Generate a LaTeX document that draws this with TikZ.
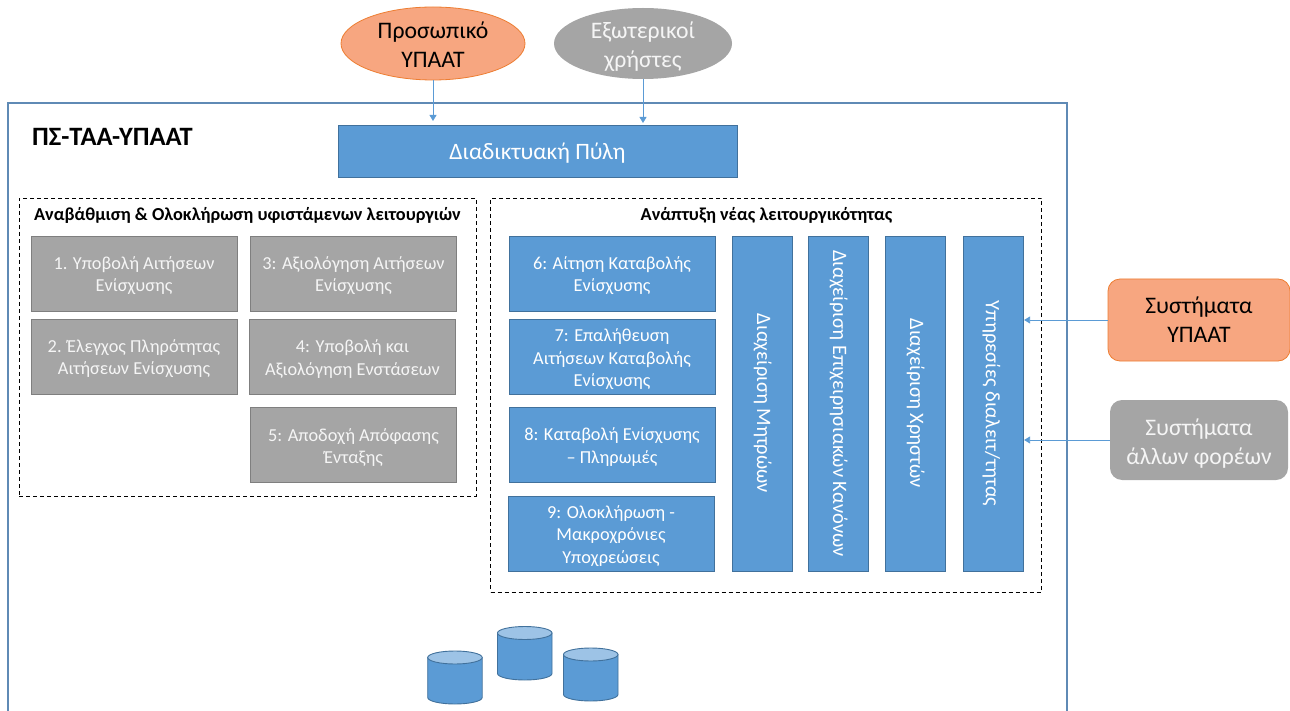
\documentclass[tikz,border=0pt]{standalone}
\usepackage{fontspec}
\setmainfont{Carlito}
\usetikzlibrary{shapes.geometric,arrows.meta}
\definecolor{bluefill}{HTML}{5B9BD5}
\definecolor{blueline}{HTML}{41719C}
\definecolor{bluetop}{HTML}{9DC3E6}
\definecolor{grayfill}{HTML}{A5A5A5}
\definecolor{grayline}{HTML}{7F7F7F}
\definecolor{orangefill}{HTML}{F7A680}
\definecolor{orangeline}{HTML}{ED7D31}
\definecolor{frameline}{HTML}{5F8AB5}
\newcommand{\toplift}{\rule{0pt}{17.5pt}}
\tikzset{
  bx/.style={rectangle,inner sep=0pt,align=center,line width=0.8pt,font=\fontsize{18.3}{22.5}\selectfont},
  bluebox/.style={bx,draw=blueline,fill=bluefill,text=white},
  graybox/.style={bx,draw=grayline,fill=grayfill,text=white!92!gray},
  wide/.style={minimum width=206pt,minimum height=75pt},
  bar/.style={bluebox,minimum width=60pt,minimum height=335pt},
  bartext/.style={font=\fontsize{20.5}{24}\selectfont,text=white,inner sep=0pt},
  dashbox/.style={rectangle,draw=black,dashed,line width=0.9pt,dash pattern=on 4pt off 3pt,inner sep=0pt},
  head/.style={font=\bfseries\fontsize{18.3}{22}\selectfont,text=black,inner sep=0pt},
  link/.style={draw=bluefill,line width=0.8pt,-{Triangle[length=6pt,width=7pt]}},
  bigtext/.style={font=\fontsize{23.7}{29}\selectfont,align=center,inner sep=0pt},
}
\newcommand{\dbcyl}[3]{%
  \path[fill=bluefill,draw=blueline,line width=0.9pt]
    (#1,#2+6.5) -- (#1,#3-6.5) arc[start angle=180,end angle=360,x radius=27.25pt,y radius=6.5pt]
    -- (#1+54.5,#2+6.5) -- cycle;
  \path[fill=bluetop,draw=blueline,line width=0.9pt]
    (#1+27.25,#2+6.5) ellipse[x radius=27.25pt,y radius=6.5pt];
}
\begin{document}
\begin{tikzpicture}[x=1pt,y=-1pt]
\useasboundingbox (0,0) rectangle (1290,711);
% outer frame, open at the bottom
\draw[frameline,line width=1.2pt] (8,711) -- (8,103) -- (1067,103) -- (1067,711);
\node[anchor=west,inner sep=0pt,font=\bfseries\fontsize{26.5}{30}\selectfont] (title) at (32,137) {ΠΣ-ΤΑΑ-ΥΠΑΑΤ};

% actors
\node[ellipse,draw=orangeline,fill=orangefill,line width=0.8pt,minimum width=184pt,minimum height=73pt,inner sep=0pt] (staff) at (433,43.5) {};
\node[bigtext,text=black] (stafft) at (433,44.5) {Προσωπικό\\ΥΠΑΑΤ};
\node[ellipse,fill=grayfill,minimum width=178pt,minimum height=71pt,inner sep=0pt] (ext) at (643,43.5) {};
\node[bigtext,text=white!92!gray] (extt) at (643,47) {Εξωτερικοί\\χρήστες};

% portal
\node[bluebox,minimum width=399pt,minimum height=52pt,font=\fontsize{23.5}{28}\selectfont] (portal) at (537.5,151) {\rule{0pt}{21pt}Διαδικτυακή Πύλη};
\coordinate (staffend) at (433,121);
\coordinate (extend) at (643,123);
\path[link] (staff.south) -- (staffend);
\path[link] (ext.south) -- (extend);

% dashed groups
\node[dashbox,minimum width=457pt,minimum height=298pt] (grpA) at (247.5,347) {};
\node[head] (headA) at (247.5,215) {Αναβάθμιση \& Ολοκλήρωση υφιστάμενων λειτουργιών};
\node[dashbox,minimum width=551pt,minimum height=394pt] (grpB) at (766,395) {};
\node[head] (headB) at (766.5,215) {Ανάπτυξη νέας λειτουργικότητας};

% gray boxes
\node[graybox,wide] (b1) at (134,273.5) {\toplift 1. Υποβολή Αιτήσεων\\Ενίσχυσης};
\node[graybox,wide] (b2) at (134,356.5) {\toplift 2. Έλεγχος Πληρότητας\\Αιτήσεων Ενίσχυσης};
\node[graybox,wide] (b3) at (353.5,273.5) {\toplift 3: Αξιολόγηση Αιτήσεων\\Ενίσχυσης};
\node[graybox,wide] (b4) at (352.5,356.5) {\toplift 4: Υποβολή και\\Αξιολόγηση Ενστάσεων};
\node[graybox,wide] (b5) at (353.5,445) {\toplift 5: Αποδοχή Απόφασης\\Ένταξης};

% blue boxes
\node[bluebox,wide] (b6) at (612,273.5) {\toplift 6: Αίτηση Καταβολής\\Ενίσχυσης};
\node[bluebox,wide] (b7) at (612,357) {\toplift 7: Επαλήθευση\\Αιτήσεων Καταβολής\\Ενίσχυσης};
\node[bluebox,wide] (b8) at (612,444.5) {\toplift 8: Καταβολή Ενίσχυσης\\– Πληρωμές};
\node[bluebox,wide] (b9) at (611,533.5) {\toplift 9: Ολοκλήρωση -\\Μακροχρόνιες\\Υποχρεώσεις};

% vertical bars
\node[bar] (v1) at (762.7,403.5) {};
\node[bartext,rotate=-90] at (v1.center) {Διαχείριση Μητρώων};
\node[bar] (v2) at (838.7,403.5) {};
\node[bartext,rotate=-90] at (v2.center) {Διαχείριση Επιχειρησιακών Κανόνων};
\node[bar] (v3) at (915.7,403.5) {};
\node[bartext,rotate=-90] at (v3.center) {Διαχείριση Χρηστών};
\node[bar] (v4) at (993.7,403.5) {};
\node[bartext,rotate=-90] at (991.5,403.5) {Υπηρεσίες διαλειτ/τητας};

% external systems
\node[rectangle,rounded corners=12pt,draw=orangeline,fill=orangefill,line width=0.8pt,minimum width=182pt,minimum height=82pt,inner sep=0pt,bigtext,text=black] (sys1) at (1199,320) {Συστήματα\\ΥΠΑΑΤ};
\node[rectangle,rounded corners=12pt,fill=grayfill,minimum width=178pt,minimum height=80pt,inner sep=0pt,bigtext,text=white!92!gray] (sys2) at (1199,440) {\rule{0pt}{24pt}Συστήματα\\άλλων φορέων};
\path[link] (sys1.west) -- (sys1.west -| v4.east);
\path[link] (sys2.west) -- (sys2.west -| v4.east);

% databases
\dbcyl{427.7}{651}{704}
\dbcyl{497.5}{626.5}{680}
\dbcyl{563.5}{648}{701}
\end{tikzpicture}
\end{document}
